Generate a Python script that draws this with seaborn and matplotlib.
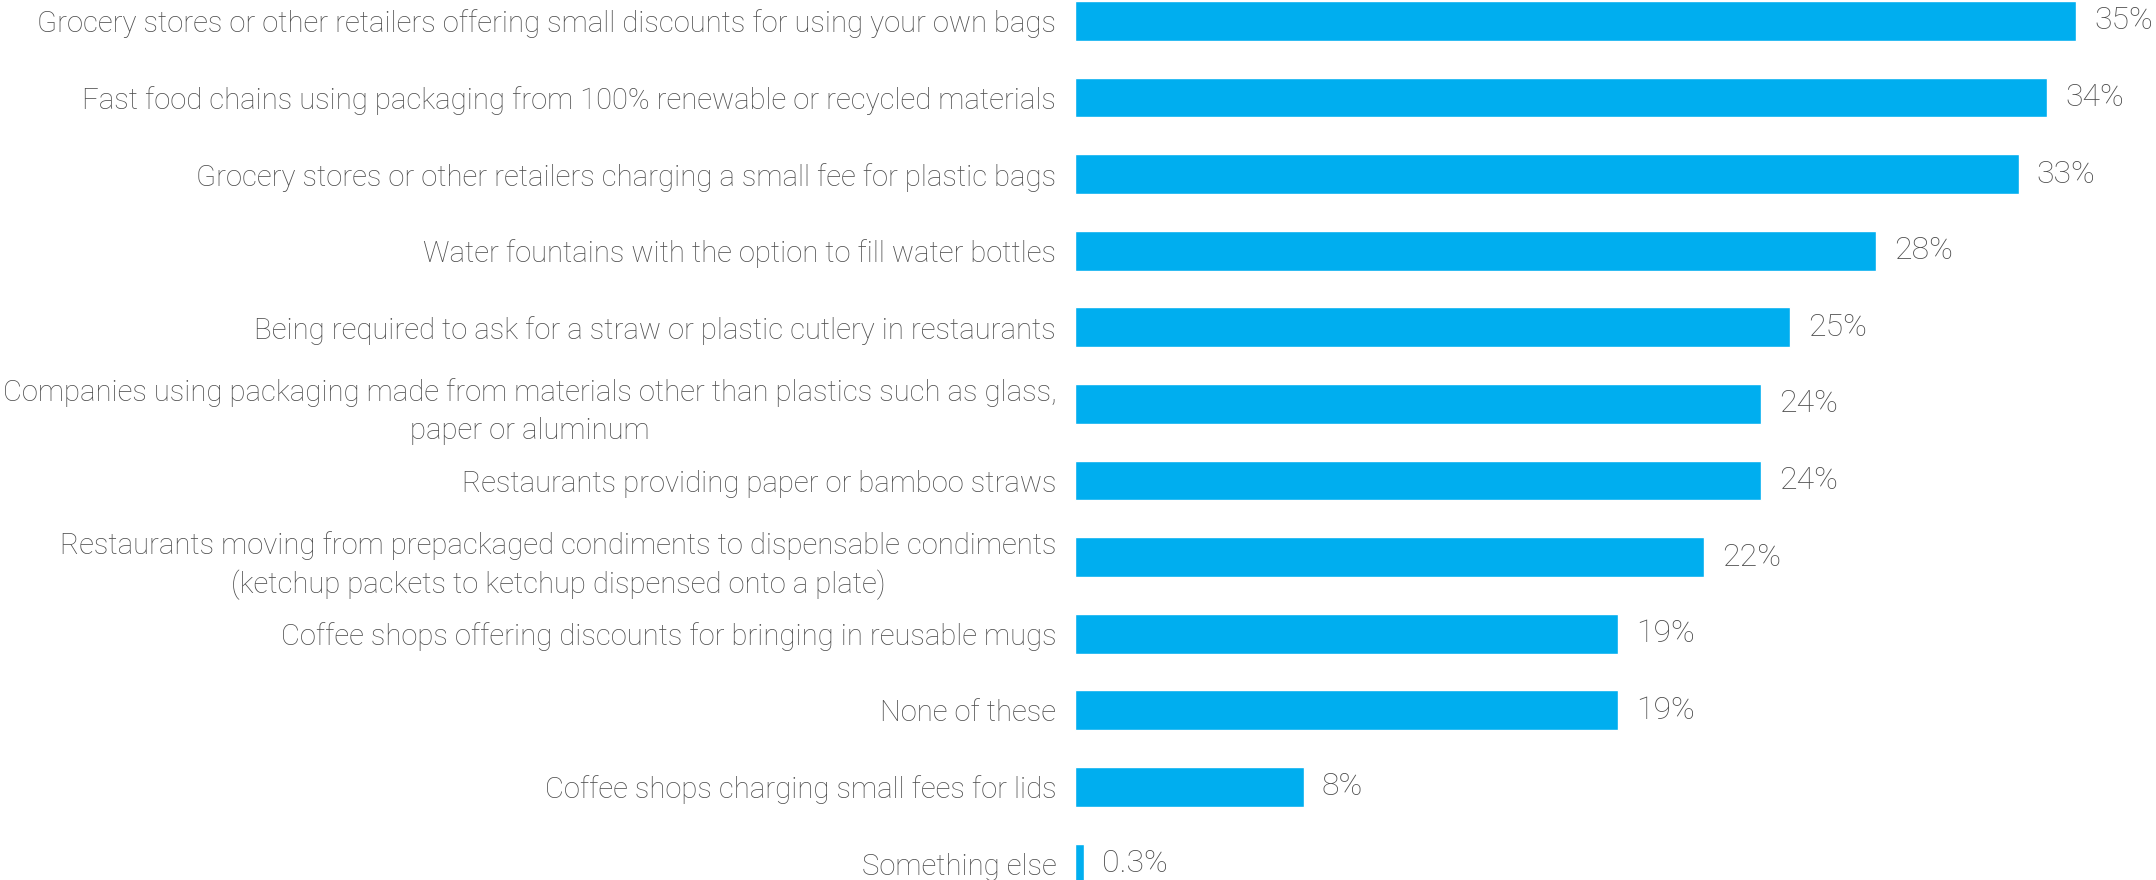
import matplotlib
matplotlib.use("Agg")
import matplotlib.pyplot as plt
import seaborn as sns
import pandas as pd

categories = [
    "Grocery stores or other retailers offering small discounts for using your own bags",
    "Fast food chains using packaging from 100% renewable or recycled materials",
    "Grocery stores or other retailers charging a small fee for plastic bags",
    "Water fountains with the option to fill water bottles",
    "Being required to ask for a straw or plastic cutlery in restaurants",
    "Companies using packaging made from materials other than plastics such as glass,\npaper or aluminum",
    "Restaurants providing paper or bamboo straws",
    "Restaurants moving from prepackaged condiments to dispensable condiments\n(ketchup packets to ketchup dispensed onto a plate)",
    "Coffee shops offering discounts for bringing in reusable mugs",
    "None of these",
    "Coffee shops charging small fees for lids",
    "Something else",
]
values = [35, 34, 33, 28, 25, 24, 24, 22, 19, 19, 8, 0.3]
value_labels = ["35%", "34%", "33%", "28%", "25%", "24%", "24%", "22%", "19%", "19%", "8%", "0.3%"]

BAR_COLOR = "#00AEEF"
TEXT_COLOR = "#4d4d4d"

sns.set_theme(style="white")
plt.rcParams["font.family"] = ["Roboto", "DejaVu Sans"]

df = pd.DataFrame({"item": categories, "share": values})

W, H = 2156, 880
fig = plt.figure(figsize=(W / 100, H / 100), dpi=100)
left_px = 1075
ax = fig.add_axes([left_px / W, 0, (W - left_px) / W, 1])

sns.barplot(data=df, y="item", x="share", orient="h", color=BAR_COLOR,
            width=0.52, saturation=1, ax=ax)

ax.set_xlim(0, 37.8)
ax.set_ylim(11.215, -0.273)
ax.set_xlabel("")
ax.set_ylabel("")
ax.set_xticks([])
sns.despine(ax=ax, left=True, bottom=True)

ax.tick_params(axis="y", length=0, pad=13.5, labelsize=21.1, labelcolor=TEXT_COLOR)
for lbl in ax.get_yticklabels():
    lbl.set_multialignment("center")
    lbl.set_linespacing(1.42)
    lbl.set_fontweight("light")

for i, (v, t) in enumerate(zip(values, value_labels)):
    ax.annotate(t, xy=(v, i), xytext=(13, 0), textcoords="offset points",
                va="center", ha="left", fontsize=23, color=TEXT_COLOR,
                fontweight="light", annotation_clip=False)

fig.savefig("out.png", dpi=100)
